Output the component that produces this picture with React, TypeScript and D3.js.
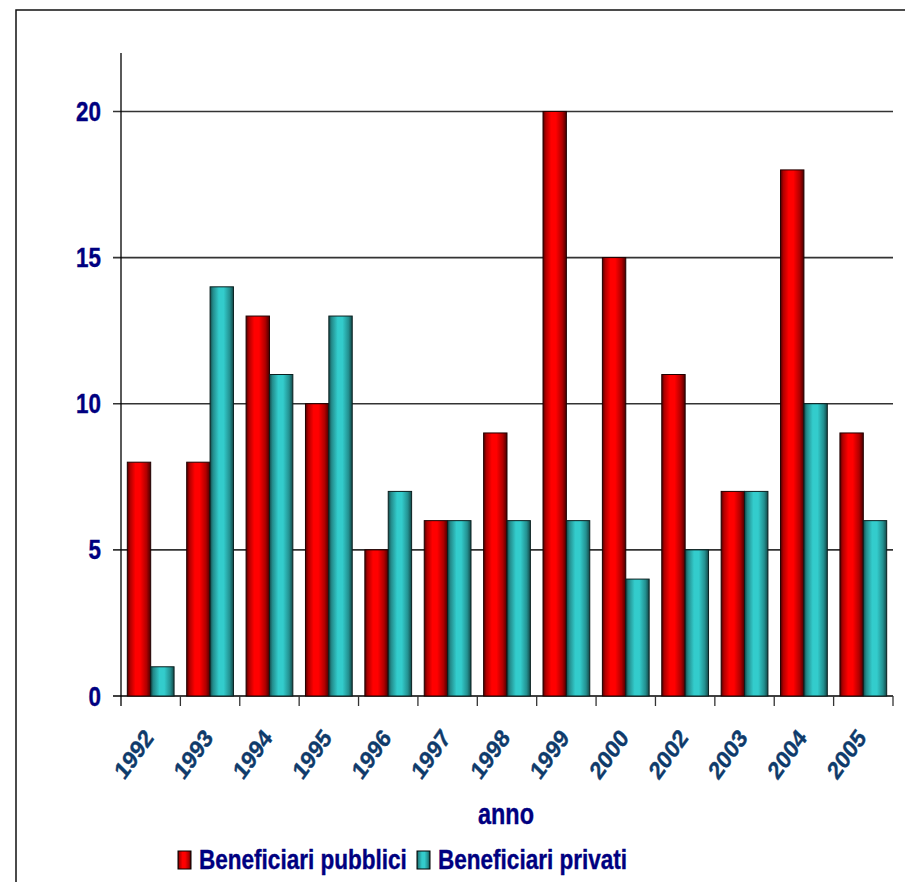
import React from 'react'
import * as d3 from 'd3'

const years = ['1992', '1993', '1994', '1995', '1996', '1997', '1998', '1999', '2000', '2002', '2003', '2004', '2005']
const pubblici = [8, 8, 13, 10, 5, 6, 9, 20, 15, 11, 7, 18, 9]
const privati = [1, 14, 11, 13, 7, 6, 6, 6, 4, 5, 7, 10, 6]
const yTicks = [0, 5, 10, 15, 20]
const seriesNames = ['Beneficiari pubblici', 'Beneficiari privati']

const W = 905
const H = 882
const FONT = '"Liberation Sans", Arial, sans-serif'

const App: React.FC = () => {
    const x = d3.scaleBand<string>().domain(years).range([121, 893]).paddingInner(0).paddingOuter(0)
    const inner = d3
        .scaleBand<string>()
        .domain(['pub', 'priv'])
        .range([0, x.bandwidth()])
        .paddingInner(0)
        .paddingOuter(0.27)
    const y = d3.scaleLinear().domain([0, 22]).range([696, 53])

    const rows = years.map((yr, i) => ({ yr, pub: pubblici[i], priv: privati[i] }))
    const x0 = x.range()[0]
    const x1 = x.range()[1]

    return (
        <svg width={W} height={H} style={{ position: 'absolute', left: 0, top: 0 }}>
            <defs>
                <linearGradient id='gRed' x1='0' x2='1' y1='0' y2='0'>
                    <stop offset='0%' stopColor='#500000' />
                    <stop offset='12%' stopColor='#b00000' />
                    <stop offset='35%' stopColor='#ff0000' />
                    <stop offset='55%' stopColor='#ff0000' />
                    <stop offset='82%' stopColor='#b00000' />
                    <stop offset='100%' stopColor='#4a0000' />
                </linearGradient>
                <linearGradient id='gTeal' x1='0' x2='1' y1='0' y2='0'>
                    <stop offset='0%' stopColor='#144a4a' />
                    <stop offset='12%' stopColor='#238a8a' />
                    <stop offset='38%' stopColor='#33cccc' />
                    <stop offset='58%' stopColor='#33cccc' />
                    <stop offset='84%' stopColor='#239090' />
                    <stop offset='100%' stopColor='#144848' />
                </linearGradient>
            </defs>
            <rect x={16} y={10} width={1000} height={1000} fill='none' stroke='#111' strokeWidth={1.5} />

            {/* grid */}
            <g>
                {yTicks.map((t) => (
                    <line
                        key={t}
                        x1={113}
                        x2={x1}
                        y1={y(t)}
                        y2={y(t)}
                        stroke={t === 0 ? '#000' : '#333'}
                        strokeWidth={1.6}
                    />
                ))}
                <line x1={x0} x2={x0} y1={53} y2={706} stroke='#000' strokeWidth={1.3} />
                {years.map((yr) => (
                    <line
                        key={yr}
                        x1={(x(yr) as number) + x.bandwidth()}
                        x2={(x(yr) as number) + x.bandwidth()}
                        y1={y(0)}
                        y2={706}
                        stroke='#333'
                        strokeWidth={1.3}
                    />
                ))}
            </g>

            {/* bars */}
            <g>
                {rows.map((d) => (
                    <g key={d.yr} transform={`translate(${x(d.yr)},0)`}>
                        <rect
                            x={inner('pub')}
                            y={y(d.pub)}
                            width={inner.bandwidth()}
                            height={y(0) - y(d.pub)}
                            fill='url(#gRed)'
                            stroke='#200000'
                            strokeWidth={1}
                        />
                        <rect
                            x={inner('priv')}
                            y={y(d.priv)}
                            width={inner.bandwidth()}
                            height={y(0) - y(d.priv)}
                            fill='url(#gTeal)'
                            stroke='#0a2020'
                            strokeWidth={1}
                        />
                    </g>
                ))}
            </g>

            {/* y labels */}
            <g fontFamily={FONT} fontWeight='bold' fontSize={27} fill='#000080' stroke='#000080' strokeWidth={0.4}>
                {yTicks.map((t) => (
                    <text key={t} transform={`translate(101,${y(t) + 9.5}) scale(0.83,1)`} textAnchor='end'>
                        {t}
                    </text>
                ))}
            </g>

            {/* x labels */}
            <g fontFamily={FONT} fontWeight='bold' fontSize={25} fill='#0f3b6b' stroke='#0f3b6b' strokeWidth={0.4}>
                {years.map((yr) => (
                    <text
                        key={yr}
                        transform={`translate(${(x(yr) as number) + x.bandwidth() / 2 + 4},738.5) scale(0.85,1) rotate(-50)`}
                        textAnchor='end'
                    >
                        {yr}
                    </text>
                ))}
            </g>

            {/* axis title */}
            <text
                transform={`translate(506,824) scale(0.78,1)`}
                textAnchor='middle'
                fontFamily={FONT}
                fontWeight='bold'
                fontSize={30}
                fill='#000080'
                stroke='#000080'
                strokeWidth={0.4}
            >
                anno
            </text>

            {/* legend */}
            <g fontFamily={FONT} fontWeight='bold' fontSize={28} fill='#000080'>
                {seriesNames.map((s, i) => {
                    const lx = i === 0 ? 178 : 417
                    return (
                        <g key={s}>
                            <rect
                                x={lx}
                                y={851}
                                width={13}
                                height={18}
                                fill={i === 0 ? 'url(#gRed)' : 'url(#gTeal)'}
                                stroke='#000'
                                strokeWidth={1}
                            />
                            <text
                                transform={`translate(${lx + 21},869) scale(0.805,1)`}
                                stroke='#000080'
                                strokeWidth={0.4}
                            >
                                {s}
                            </text>
                        </g>
                    )
                })}
            </g>
        </svg>
    )
}

export default App
